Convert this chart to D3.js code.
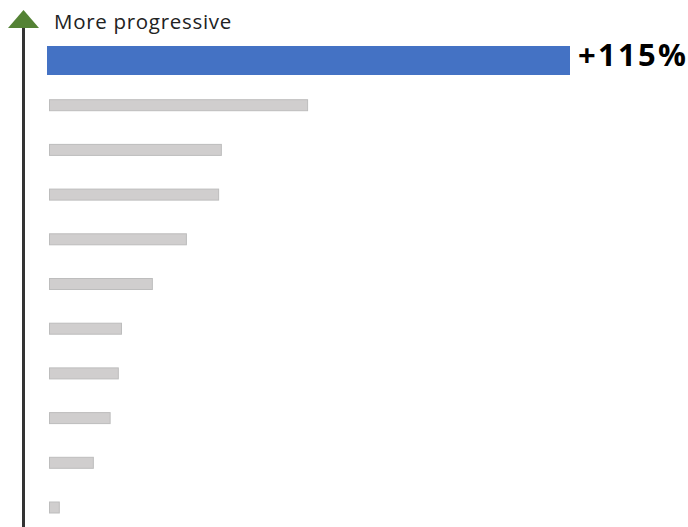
<!DOCTYPE html>
<html>
<head>
<meta charset="utf-8">
<script src="https://cdn.jsdelivr.net/npm/d3@7"></script>
<style>
html,body{margin:0;padding:0;background:#fff;}
svg{display:block;}
</style>
</head>
<body>
<svg id="chart" width="688" height="527"></svg>
<script>
const categories = ["Highlight","B1","B2","B3","B4","B5","B6","B7","B8","B9","B10"];
const values = [115, 57.3, 38.3, 37.7, 30.6, 23.1, 16.3, 15.6, 13.8, 10.1, 2.6];
const highlightLabel = "+115%";
const axisLabel = "More progressive";

const svg = d3.select("#chart");
const x = d3.scaleLinear().domain([0, 115]).range([48, 570]);
const y = d3.scaleBand().domain(categories).range([38.15, 529.85]).padding(0);

// axis arrow
svg.append("line")
  .attr("x1", 23.5).attr("x2", 23.5).attr("y1", 26).attr("y2", 527)
  .attr("stroke", "#333").attr("stroke-width", 3);
svg.append("path")
  .attr("d", "M8,28 L23.5,10 L39,28 Z")
  .attr("fill", "#548235");
svg.append("text")
  .attr("x", 54).attr("y", 29)
  .attr("font-family", "'Open Sans', sans-serif")
  .attr("font-size", 20.5)
  .attr("letter-spacing", 0.7)
  .attr("fill", "#222")
  .text(axisLabel);

const bars = categories.map((c, i) => ({c, v: values[i], i}));
svg.selectAll("rect.bar").data(bars).enter().append("rect")
  .attr("class", "bar")
  .attr("x", d => d.i === 0 ? x(0) - 1 : x(0) + 1.5)
  .attr("width", d => d.i === 0 ? x(d.v) - x(0) + 1 : x(d.v) - x(0) - 2)
  .attr("y", d => y(d.c) + y.bandwidth() / 2 - (d.i === 0 ? 14.5 : 5.5))
  .attr("height", d => d.i === 0 ? 29 : 11)
  .attr("fill", d => d.i === 0 ? "#4472C4" : "#D0CECE")
  .attr("stroke", d => d.i === 0 ? "none" : "#BDBDBD")
  .attr("stroke-width", 1);

svg.append("text")
  .attr("x", x(values[0]) + 8)
  .attr("y", y(categories[0]) + y.bandwidth() / 2 + 5.5)
  .attr("font-family", "'Open Sans', sans-serif")
  .attr("font-weight", "bold")
  .attr("font-size", 31)
  .attr("letter-spacing", 2.3)
  .attr("fill", "#000")
  .text(highlightLabel);
</script>
</body>
</html>
